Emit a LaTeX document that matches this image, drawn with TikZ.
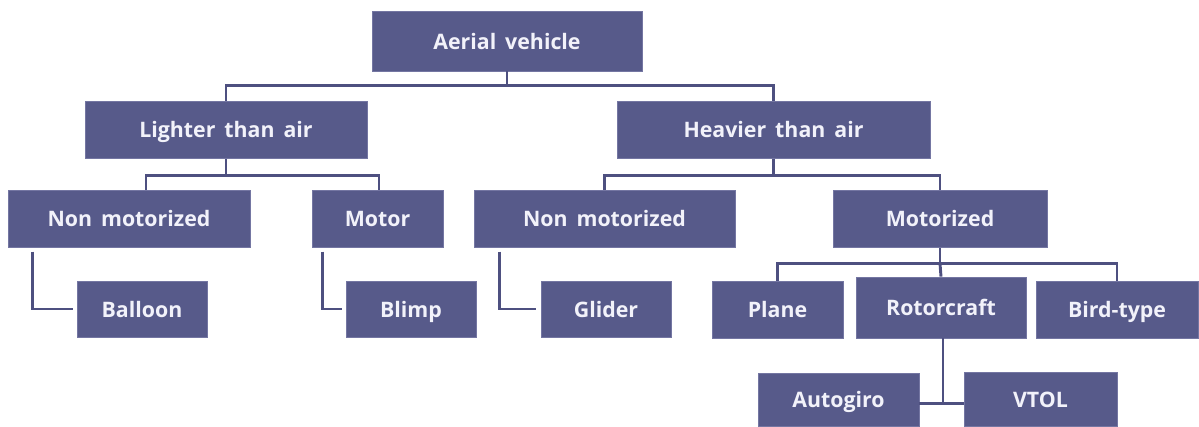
\documentclass[tikz,border=0pt]{standalone}
\usepackage{fontspec}
\setmainfont{Open Sans}
\usepackage{tikz}
\usetikzlibrary{calc,positioning}
\usepackage{xcolor}
\definecolor{TreeFill}{HTML}{575A8A}
\definecolor{TreeEdge}{HTML}{7476A2}
\definecolor{TreeLine}{HTML}{4E5080}
\definecolor{TreeText}{HTML}{F2F2FA}
\newcommand{\treefont}{\fontsize{16}{19}\selectfont\bfseries\spaceskip=0.42em plus 0.1em\relax}
\tikzset{
  px/.style={x=0.75pt,y=-0.75pt},
  catbox/.style={draw=TreeEdge,line width=0.5pt,fill=TreeFill,text=TreeText,align=center,inner sep=0pt,
    text height=15.5pt,text depth=3.5pt,font=\treefont},
  link/.style={draw=TreeLine,line width=2.2pt}
}

\begin{document}
\begin{tikzpicture}[px]
  \useasboundingbox (0,0) rectangle (1199,426);
  % levels 0 and 1
  \node[catbox,minimum width=202.5pt,minimum height=45pt] (av) at (507,41) {Aerial vehicle};
  \node[catbox,minimum width=211.5pt,minimum height=43pt] (lta) at (226,129.5) {Lighter than air};
  \node[catbox,minimum width=234.8pt,minimum height=43pt] (hta) at (773.5,129.5) {Heavier than air};
  % level 2
  \node[catbox,minimum width=181.5pt,minimum height=43pt] (nmlight) at (129,218.5) {Non motorized};
  \node[catbox,minimum width=98.3pt,minimum height=43pt] (motor) at (377.5,218.5) {Motor};
  \node[catbox,minimum width=195.8pt,minimum height=43pt] (nmheavy) at (604.5,218.5) {Non motorized};
  \node[catbox,minimum width=160.5pt,minimum height=43pt] (motorized) at (940,218.5) {Motorized};
  % level 3
  \node[catbox,minimum width=97.5pt,minimum height=42pt] (balloon) at (142,309) {Balloon};
  \node[catbox,minimum width=97.5pt,minimum height=42pt] (blimp) at (411,309) {Blimp};
  \node[catbox,minimum width=97.5pt,minimum height=42pt] (glider) at (606,309) {Glider};
  \node[catbox,minimum width=98.3pt,minimum height=42.8pt] (plane) at (777.5,309.5) {Plane};
  \node[catbox,minimum width=127.5pt,minimum height=45.8pt] (rotor) at (941,307.5) {Rotorcraft};
  \node[catbox,minimum width=121.5pt,minimum height=42.8pt] (bird) at (1117,309.5) {Bird-type};
  % level 4
  \node[catbox,minimum width=120.8pt,minimum height=39.8pt] (autogiro) at (838.5,399.5) {Autogiro};
  \node[catbox,minimum width=114.8pt,minimum height=40.5pt] (vtol) at (1040.5,399) {VTOL};

  % tree connectors
  \draw[link] (av.south) -- ++(0,14) coordinate (avbus);
  \draw[link] (lta.north) |- (avbus) -| (hta.north);
  \draw[link] (lta.south) -- ++(0,17) coordinate (ltabus);
  \draw[link] ($(nmlight.north)+(17,0)$) |- (ltabus) -| ($(motor.north)+(1.5,0)$);
  \draw[link] (hta.south) -- ++(0,17) coordinate (htabus);
  \draw[link] (nmheavy.north) |- (htabus) -| (motorized.north);
  \draw[link] (motorized.south) -- ++(0,16) coordinate (motbus);
  \draw[link] (plane.north) |- (motbus) -| (bird.north);
  \draw[link] (motbus) -- (rotor.north);
  % side branches
  \draw[link] ($(nmlight.south west)+(25,4)$) |- ($(balloon.west)+(-4,0)$);
  \draw[link] ($(motor.south west)+(10.5,4)$) |- ($(blimp.west)+(-4,0)$);
  \draw[link] ($(nmheavy.south west)+(25.5,4)$) |- ($(glider.west)+(-5,0)$);
  \draw[link] ($(rotor.south)+(2,0)$) -- ++(0,65) coordinate (rotbus);
  \draw[link] (autogiro.east |- rotbus) -- (vtol.west |- rotbus);
\end{tikzpicture}
\end{document}
